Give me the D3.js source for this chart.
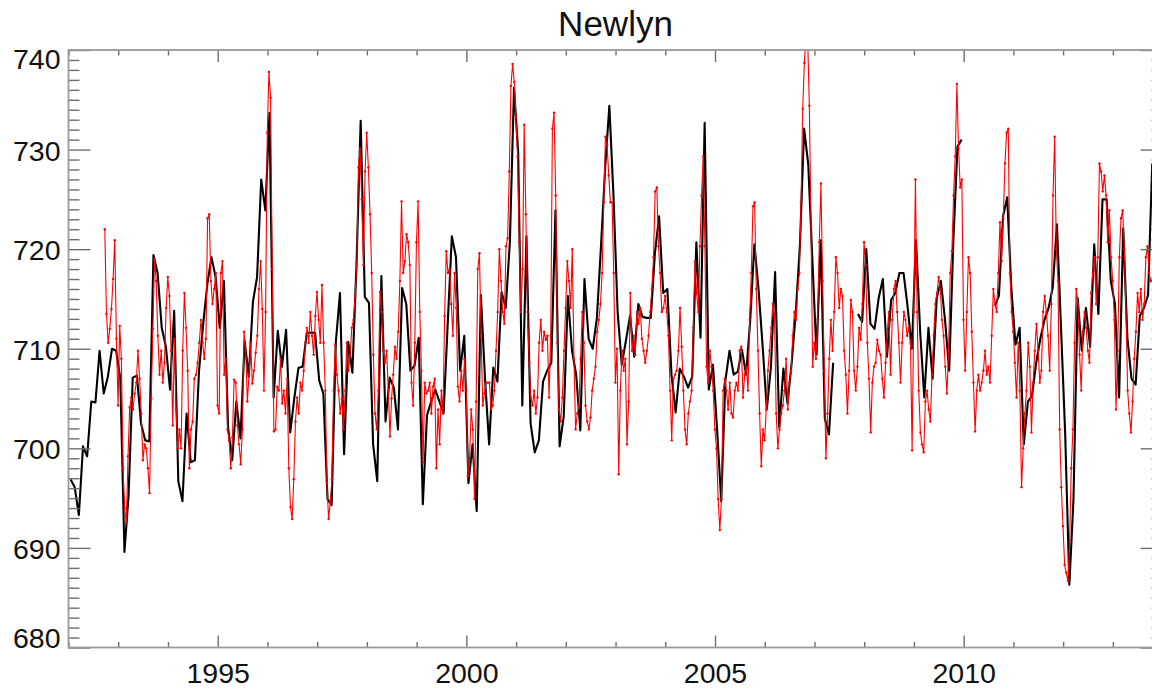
<!DOCTYPE html>
<html><head><meta charset="utf-8">
<script src="https://cdn.jsdelivr.net/npm/d3@7"></script>
<style>html,body{margin:0;padding:0;background:#fff;overflow:hidden}</style>
</head><body><svg id="c" width="1152" height="688"></svg>
<script>
const title = "Newlyn";
const yTicks = [680, 690, 700, 710, 720, 730, 740];
const xTicks = [1995, 2000, 2005, 2010];

// Monthly tide-gauge series (black), first value = Jan 1992
const tgStartYear = 1992;
const tgValues = [
696.9,696.1,693.3,700.2,699.2,704.7,704.6,709.8,705.5,707.2,710.0,709.8,
707.0,689.6,695.3,707.1,707.3,702.5,700.8,700.7,719.4,717.6,712.1,710.2,
705.9,713.8,696.7,694.7,703.5,698.6,698.8,707.8,712.5,716.5,719.2,717.2,
712.1,716.8,702.1,698.8,704.7,701.0,710.8,707.2,714.7,717.2,727.0,723.9,
733.7,705.1,711.8,708.2,711.9,701.6,705.1,708.1,708.2,711.6,711.6,711.6,
706.8,705.5,694.9,694.3,710.6,715.6,699.4,710.7,707.6,718.6,732.9,715.2,
714.6,700.4,696.7,717.3,702.7,707.1,706.1,701.9,716.1,714.5,707.8,708.3,
711.1,694.4,703.3,704.7,705.9,704.7,703.5,712.5,721.3,719.2,707.8,711.3,
696.5,700.4,693.7,715.4,707.0,700.4,708.1,706.7,715.7,714.1,720.7,736.2,
729.8,704.3,721.3,702.5,699.6,700.8,706.7,707.8,708.6,723.9,700.2,703.2,
715.3,709.8,707.4,701.8,717.0,711.0,710.0,713.1,720.4,728.2,734.4,725.4,
713.7,708.4,710.8,713.3,709.2,714.5,713.2,713.1,713.1,719.6,723.3,715.6,
716.0,707.4,703.6,708.0,707.2,706.1,707.2,720.7,711.1,732.7,705.9,708.4,
701.9,694.7,706.8,709.8,707.4,707.7,709.9,707.4,712.9,720.5,716.0,710.2,
703.9,708.2,717.7,702.1,708.0,704.5,708.6,713.7,720.5,732.1,728.5,718.8,
709.4,720.9,703.0,701.4,708.6,null,null,null,null,null,713.5,712.7,
720.0,712.5,712.0,715.1,717.0,709.2,714.9,715.6,717.6,717.6,714.1,710.0,
720.9,711.7,705.1,712.1,707.0,715.1,716.8,712.9,707.8,720.7,730.3,731.0,
null,null,null,null,null,null,null,714.3,715.3,723.3,725.2,716.1,
710.4,712.1,700.4,704.7,705.3,708.6,711.0,712.9,714.1,716.2,722.5,712.0,
701.4,686.3,694.9,715.1,709.8,714.1,710.2,720.5,713.5,725.0,725.0,716.8,
714.5,705.1,722.1,711.1,707.0,706.4,713.3,714.1,715.4,728.6
];

// Altimetry series (red), regular sampling from altStartYear
const altStartYear = 1992.73;
const altPerYear = 30;
const altValues = [
722,713.5,710.6,712,714,717,720.9,711,704.3,712.3,
709,698,694,692.5,699.2,704.1,705.1,703.9,705.5,706.6,
709.8,707,703.5,698.8,700.4,700,698,695.5,705,712,
719,716.8,711.3,707.4,709.8,706.6,708.6,714.1,717.2,715.3,
709.8,702.3,711,703.9,700,701.9,700,709.8,715.6,712.1,
707.8,698,701.9,702.7,707,707.4,708.6,710.6,712.9,710.6,
709,711,723.1,723.5,716.8,714.5,716,717.6,704.3,703.5,
717.6,718.8,707.4,709,701.9,700.8,698,701.1,706.9,706.6,
702.3,700.4,698.4,701.9,711.7,709.8,704.7,707.4,710.6,
706.5,707.8,709.6,711.3,716,718.8,714,705.8,713.7,731.7,
737.8,735.2,718,701.7,701.9,706.2,705.8,709,704.5,705.8,
703.5,707,698,694.1,692.9,696.9,702.7,705.1,703.5,706.6,
705.8,707.8,710.6,712.1,710.6,713.7,711.3,709.4,713.3,715.7,
712.9,710.6,716.4,710.6,705.8,696.5,692.9,694.5,696.9,705.8,
710.4,707.4,705.8,703.5,705,701.9,705.8,710.6,707.8,709.4,
712.1,712.9,715.3,718.4,728.2,730.1,725,718.4,727.8,731.7,
728.2,723.5,717.6,709.4,703.5,701.9,705.8,715.7,713.7,709.8,
708.6,709.8,705.8,701.2,705,707.4,710.2,709,711.7,716.8,
724.8,717.6,718.8,721.5,720.7,718.4,706.6,704.3,710.6,720.7,
724.8,713.7,707.8,698.6,706.6,705.5,705.8,706.6,703.5,706.2,
707,
698,703.9,700.4,705.8,703.5,713.3,719.8,717.6,718,714.5,
711.3,717.6,714.1,706.2,704.7,707.8,705.8,709,705.8,697.2,
698.8,703.9,701.9,694.9,704.7,718,719.6,711.3,704.3,705.5,
706.6,706.6,706.6,703.9,704.3,705.8,709.8,713.7,720,716.8,
713.7,712.5,720.3,721.1,727.8,736.4,738.6,736.8,733.3,729.3,
720.7,713.7,718,732.5,723.5,713.7,708.6,705.1,704.3,705.8,
703.5,705.1,710.6,712.9,709.8,711.7,710.9,711.3,705.1,711.3,
732.1,733.7,725.4,710.6,703.9,702.7,705.1,709.8,714.1,718.8,
716.8,714.1,720,709,701.9,703.5,704.3,709,713.7,710.6,
704.3,702.7,701.9,703.1,705.8,707,708.2,711.7,712.9,714.5,
717.6,724.7,731.3,730.5,727.4,724.7,724.7,717.6,706.6,710,
697.4,705.8,709.8,707.8,709,700.4,704.7,715.6,709.8,711.3,
709.4,713.7,712.5,714.1,711,709.8,708.6,709.8,711.3,713.7,
716,719.2,725.8,726.2,720.3,717.6,713.7,714.1,715.3,713.7,
711.3,705.8,700.8,707,707.4,707.8,709.8,714.1,710.2,705.8,
701.9,700.4,703.5,704.7,705.8,712.1,718.8,715.6,713.7,720.3,
725.4,729.3,720.3,708.2,706.6,709.8,708.2,705.8,701.9,700,
694.9,691.8,694.9,705.8,707,705.8,703.9,706.6,703.5,703.1,
705.8,706.6,705.8,709.8,710.2,705.1,707.4,708.2,705.8,712.9,
717.6,724.3,724.7,716,709.8,703.5,698.2,701.9,700.8,703.9,
707.8,709.8,712.1,714.5,713.3,703.5,700,701.9,703.5,704.3,
705.8,709,703.9,706.6,707.8,711.3,713.7,712.9,716,717.6,
724.7,734.1,738.7,741.5,741,734.4,722.3,708.2,710.6,709,
712.9,720.7,726.6,716.8,707.8,699,703.5,709,712.9,709.8,
713.7,719.2,717.6,714.1,716,715.3,709.8,707.4,703.5,707.8,
714.9,713.7,707.8,705.8,708.2,712.1,710.9,714.5,720.7,718.4,
710.6,707,701.6,706.6,708.2,708.6,710.9,709.8,709.4,707,
705.1,708.6,711.7,713.7,707.4,712.9,716,716.8,713.7,710.6,
706.6,710.6,713.7,712.9,711.3,712.1,710.6,699.8,713.7,727,
713.7,705.8,701.6,700.4,699.6,704.7,705.8,703.9,702.7,707.4,
711.3,714.5,715.6,717.2,716,712.9,711.3,708.2,705.5,709.8,
717.6,719.8,725.4,729.3,736.6,730.1,726.2,727,712.9,707.8,
713.7,719.2,717.6,711.7,706.6,701.7,705.8,707.4,705.8,706.6,
707.8,709.8,707.4,708.2,706.6,711.3,716,714.5,713.7,717.6,
722.7,718.8,723.1,728.6,731.7,732.1,717.6,713.7,711.7,708.6,
705.1,710.6,705.8,696.1,700,703.5,705.8,710.6,708.2,701.6,
706.6,709.8,712.5,709.8,706.6,707.8,713.7,715.3,713.7,711.3,
707.8,714.5,725.4,731.3,720,716.8,701.9,696.1,692.2,688.3,
687.5,686.7,690.6,698,701.9,710.6,716,714.5,709.4,705.8,
711.7,713.7,712.1,709.8,708.6,715.6,717.6,719.2,714.5,719.2,
728.6,727.8,725.8,727.4,725.4,720.7,723.9,719.2,716.8,712.9,
703.9,709.8,719.2,723.1,723.9,720,713.7,705.8,703.5,701.6,
704.7,709,711.7,715.6,713.7,716,712.9,714.5,719.2,720.3,
717.6,716.8
];

const W = 1152, H = 688;
const L = 68.5, R = 1162.6, T = 50, B = 647.5;
const x = d3.scaleLinear().domain([1992, 2014]).range([L, R]);
const y = d3.scaleLinear().domain([680, 740]).range([B, T]);

const tg = tgValues.map((v, k) => ({t: tgStartYear + (k + 0.5) / 12, v}));
const alt = altValues.map((v, i) => ({t: altStartYear + i / altPerYear, v}));

const svg = d3.select("#c");
const font = "'Liberation Sans', Arial, Helvetica, sans-serif";

svg.append("defs").append("clipPath").attr("id", "clip")
  .append("rect").attr("x", L).attr("y", T).attr("width", R - L).attr("height", B - T);

const plot = svg.append("g").attr("clip-path", "url(#clip)");

const line = d3.line().defined(d => d.v != null).x(d => x(d.t)).y(d => y(d.v));

plot.append("path").datum(tg)
  .attr("d", line).attr("fill", "none")
  .attr("stroke", "#000").attr("stroke-width", 2.1)
  .attr("stroke-linejoin", "round");

plot.append("path").datum(alt)
  .attr("d", line).attr("fill", "none")
  .attr("stroke", "#ff0000").attr("stroke-width", 1.1)
  .attr("stroke-linejoin", "round");

plot.append("g").selectAll("circle").data(alt).join("circle")
  .attr("cx", d => x(d.t)).attr("cy", d => y(d.v)).attr("r", 1.2)
  .attr("fill", "#ff0000");

// Axes
const tickCol = "#6e6e6e";
function styleAxis(g) {
  g.select(".domain").remove();
  g.selectAll(".tick line").attr("stroke", tickCol).attr("stroke-width", 1.4);
  g.selectAll("text").attr("fill", "#111").style("font-family", font).style("font-size", "28.5px");
}
const yMinor = d3.range(680, 741, 1).filter(v => !yTicks.includes(v));
const xMinor = d3.range(1992, 2015, 1).filter(v => !xTicks.includes(v));

// left
svg.append("g").attr("transform", `translate(${L},0)`)
  .call(d3.axisLeft(y).tickValues(yMinor).tickSize(-11).tickFormat("")).call(styleAxis);
const la = svg.append("g").attr("transform", `translate(${L},0)`)
  .call(d3.axisLeft(y).tickValues(yTicks).tickSize(-22).tickPadding(8).tickFormat(d3.format("d"))).call(styleAxis);
la.selectAll("text").attr("dy", null)
  .attr("y", d => d === 740 ? 18 : (d === 680 ? -0.5 : 10.5));
// right
svg.append("g").attr("transform", `translate(${R},0)`)
  .call(d3.axisRight(y).tickValues(yMinor).tickSize(-11).tickFormat("")).call(styleAxis);
svg.append("g").attr("transform", `translate(${R},0)`)
  .call(d3.axisRight(y).tickValues(yTicks).tickSize(-22).tickFormat("")).call(styleAxis);
// bottom
svg.append("g").attr("transform", `translate(0,${B})`)
  .call(d3.axisBottom(x).tickValues(xMinor).tickSize(-5.5).tickFormat("")).call(styleAxis);
const ba = svg.append("g").attr("transform", `translate(0,${B})`)
  .call(d3.axisBottom(x).tickValues(xTicks).tickSize(-12).tickPadding(15.5).tickFormat(d3.format("d"))).call(styleAxis);
// top
svg.append("g").attr("transform", `translate(0,${T})`)
  .call(d3.axisTop(x).tickValues(xMinor).tickSize(-5.5).tickFormat("")).call(styleAxis);
svg.append("g").attr("transform", `translate(0,${T})`)
  .call(d3.axisTop(x).tickValues(xTicks).tickSize(-12).tickFormat("")).call(styleAxis);

// frame
svg.append("rect").attr("x", L).attr("y", T).attr("width", R - L).attr("height", B - T)
  .attr("fill", "none").attr("stroke", "#9a9a9a").attr("stroke-width", 1.8);

// title
svg.append("text").attr("x", 615.5).attr("y", 36).attr("text-anchor", "middle")
  .style("font-family", font).style("font-size", "35px").attr("fill", "#111")
  .text(title);
</script>
</body></html>
